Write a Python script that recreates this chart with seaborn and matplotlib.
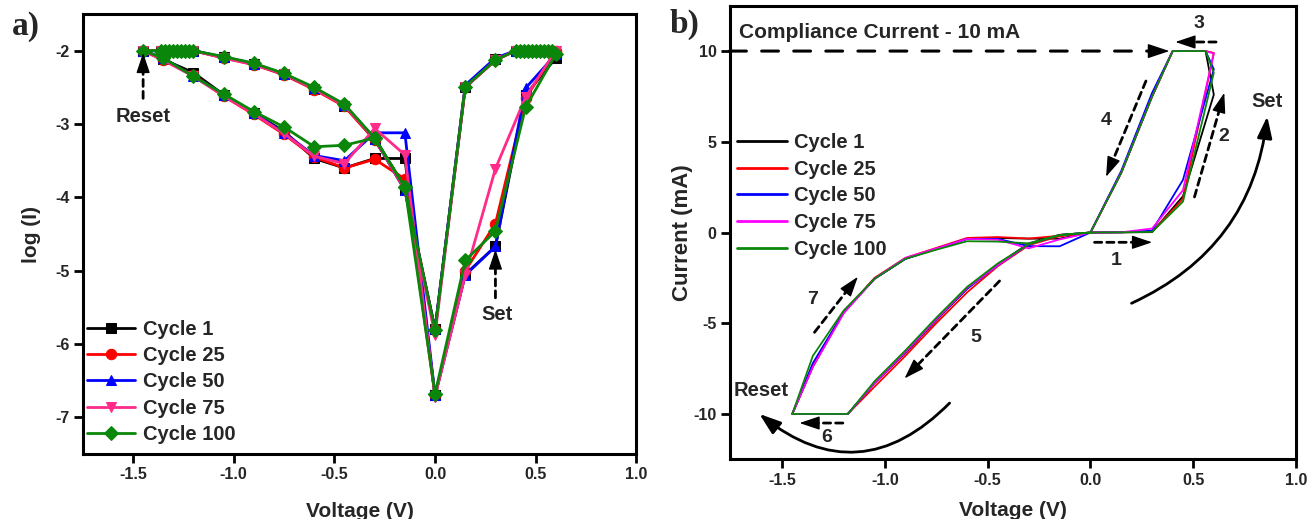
import matplotlib
matplotlib.use("Agg")
import numpy as np
import matplotlib.pyplot as plt
import seaborn as sns

# ---------------- panel a: log(I) against voltage ----------------
cycles = ["Cycle 1", "Cycle 25", "Cycle 50", "Cycle 75", "Cycle 100"]

volt_a = [0, 0.15, 0.3, 0.45, 0.6,
          0.58, 0.56, 0.54, 0.52, 0.5, 0.48, 0.46, 0.44, 0.42, 0.4,
          0.3, 0.15, 0,
          -0.15, -0.3, -0.45, -0.6, -0.75, -0.9, -1.05, -1.2,
          -1.22, -1.24, -1.26, -1.28, -1.3, -1.32, -1.34, -1.36,
          -1.45,
          -1.35, -1.2, -1.05, -0.9, -0.75, -0.6, -0.45, -0.3, -0.15, 0]

log_c1 = [-6.7, -5.05, -4.67, -2.6, -2.1,
          -2.0, -2.0, -2.0, -2.0, -2.0, -2.0, -2.0, -2.0, -2.0, -2.0,
          -2.12, -2.5, -5.8,
          -3.9, -3.2, -2.75, -2.52, -2.32, -2.18, -2.09, -2.0,
          -2.0, -2.0, -2.0, -2.0, -2.0, -2.0, -2.0, -2.0,
          -2.0,
          -2.12, -2.3, -2.6, -2.85, -3.1, -3.47, -3.6, -3.47, -3.47, -6.7]
log_c25 = [-6.7, -5.0, -4.36, -2.65, -2.0,
           -2.0, -2.0, -2.0, -2.0, -2.0, -2.0, -2.0, -2.0, -2.0, -2.0,
           -2.13, -2.5, -5.8,
           -3.85, -3.22, -2.76, -2.53, -2.33, -2.19, -2.1, -2.0,
           -2.0, -2.0, -2.0, -2.0, -2.0, -2.0, -2.0, -2.0,
           -2.0,
           -2.13, -2.33, -2.62, -2.87, -3.14, -3.45, -3.6, -3.48, -3.75, -6.7]
log_c50 = [-6.7, -5.06, -4.67, -2.51, -2.05,
           -2.0, -2.0, -2.0, -2.0, -2.0, -2.0, -2.0, -2.0, -2.0, -2.0,
           -2.1, -2.47, -5.8,
           -3.9, -3.2, -2.74, -2.51, -2.32, -2.18, -2.09, -2.0,
           -2.0, -2.0, -2.0, -2.0, -2.0, -2.0, -2.0, -2.0,
           -2.0,
           -2.1, -2.35, -2.6, -2.85, -3.12, -3.43, -3.5, -3.12, -3.12, -6.7]
log_c75 = [-6.72, -5.06, -3.61, -2.63, -2.0,
           -2.0, -2.0, -2.0, -2.0, -2.0, -2.0, -2.0, -2.0, -2.0, -2.0,
           -2.13, -2.5, -5.88,
           -3.9, -3.2, -2.75, -2.52, -2.32, -2.19, -2.1, -2.0,
           -2.0, -2.0, -2.0, -2.0, -2.0, -2.0, -2.0, -2.0,
           -2.0,
           -2.13, -2.35, -2.62, -2.86, -3.13, -3.44, -3.54, -3.06, -3.42, -6.72]
log_c100 = [-6.68, -4.86, -4.46, -2.77, -2.05,
            -2.0, -2.0, -2.0, -2.0, -2.0, -2.0, -2.0, -2.0, -2.0, -2.0,
            -2.13, -2.49, -5.81,
            -3.86, -3.19, -2.73, -2.5, -2.31, -2.17, -2.08, -2.0,
            -2.0, -2.0, -2.0, -2.0, -2.0, -2.0, -2.0, -2.0,
            -2.0,
            -2.1, -2.35, -2.59, -2.83, -3.04, -3.31, -3.29, -3.19, -3.86, -6.68]

# ---------------- panel b: current (mA) against voltage ----------------
volt_b = [0, 0.15, 0.3, 0.45, 0.6, 0.56, 0.4, 0.3, 0.15, 0,
          -0.15, -0.3, -0.45, -0.6, -0.75, -0.9, -1.05, -1.18, -1.45,
          -1.35, -1.2, -1.05, -0.9, -0.75, -0.6, -0.45, -0.3, -0.15, 0]

cur_c1 = [0, 0.01, 0.02, 2.0, 7.6, 10, 10, 7.5, 3.3, 0,
          -0.13, -0.6, -1.75, -3.1, -4.85, -6.65, -8.3, -10, -10,
          -7.4, -4.4, -2.55, -1.45, -0.9, -0.35, -0.3, -0.34, -0.34, 0]
cur_c25 = [0, 0.01, 0.05, 1.85, 9.9, 10, 10, 7.5, 3.3, 0,
           -0.2, -0.7, -1.85, -3.3, -5.0, -6.8, -8.5, -10, -10,
           -7.3, -4.4, -2.5, -1.4, -0.85, -0.3, -0.25, -0.33, -0.18, 0]
cur_c50 = [0, 0.01, 0.1, 2.9, 9.0, 10, 10, 7.7, 3.4, 0,
           -0.14, -0.65, -1.8, -3.1, -4.8, -6.6, -8.3, -10, -10,
           -7.2, -4.4, -2.55, -1.45, -0.9, -0.35, -0.35, -0.75, -0.76, 0]
cur_c75 = [0, 0.01, 0.22, 2.33, 9.87, 10, 10, 7.5, 3.3, 0,
           -0.13, -0.65, -1.8, -3.05, -4.8, -6.6, -8.3, -10, -10,
           -7.4, -4.45, -2.55, -1.4, -0.88, -0.35, -0.4, -0.87, -0.38, 0]
cur_c100 = [0, 0.01, 0.03, 1.7, 8.8, 10, 10, 7.5, 3.3, 0,
            -0.14, -0.65, -1.7, -3.0, -4.7, -6.5, -8.2, -10, -10,
            -6.8, -4.3, -2.55, -1.45, -0.95, -0.48, -0.5, -0.6, -0.14, 0]

log_series = [log_c1, log_c25, log_c50, log_c75, log_c100]
cur_series = [cur_c1, cur_c25, cur_c50, cur_c75, cur_c100]

colors_a = ["#000000", "#FF0000", "#0000FF", "#FF2A8A", "#0A870A"]
colors_b = ["#000000", "#FF0000", "#0000FF", "#FF00FF", "#0A870A"]
markers_a = ["s", "o", "^", "v", "D"]

sns.set_style("ticks")
plt.rcParams["font.family"] = ["Liberation Sans", "DejaVu Sans"]
plt.rcParams["font.weight"] = "bold"
plt.rcParams["axes.labelweight"] = "bold"

fig = plt.figure(figsize=(13.11, 5.19), dpi=100)
ax_a = fig.add_axes([0.0631, 0.1252, 0.4223, 0.8478])
ax_b = fig.add_axes([0.5565, 0.1150, 0.4321, 0.8740])


def style_axes(ax):
    for sp in ax.spines.values():
        sp.set_linewidth(2.2)
        sp.set_color("black")
    ax.tick_params(axis="both", which="both", direction="out", length=6.5, width=2,
                   labelsize=11.5, pad=3, top=False, right=False, color="black")
    for lab in ax.get_xticklabels() + ax.get_yticklabels():
        lab.set_fontweight("bold")


def dashed_arrow(ax, start, end, lw=2.0, dash=(2.6, 1.8), hl=1.25, hw=0.42):
    # dashed shaft plus a solid head placed at the end
    p0 = ax.transData.transform(start)
    p1 = ax.transData.transform(end)
    d = p1 - p0
    head_px = hl * 10 * fig.dpi / 72.0
    base = ax.transData.inverted().transform(p1 - d / np.hypot(*d) * head_px)
    ax.annotate("", xy=base, xytext=start,
                arrowprops=dict(arrowstyle="-", linestyle=(0, dash), lw=lw,
                                color="black", shrinkA=0, shrinkB=0))
    ax.annotate("", xy=end, xytext=base,
                arrowprops=dict(arrowstyle=f"-|>,head_length={hl},head_width={hw}",
                                lw=1.0, color="black", shrinkA=0, shrinkB=0,
                                mutation_scale=10))


# ---- panel a ----
ax_a.set_xlim(-1.75, 1.0)
ax_a.set_ylim(-7.5, -1.5)
for name, ys, col, mk in zip(cycles, log_series, colors_a, markers_a):
    sns.lineplot(x=volt_a, y=ys, ax=ax_a, sort=False, estimator=None, color=col,
                 marker=mk, markersize=7.5 if mk != "D" else 7, markeredgecolor=col,
                 linewidth=2.0, label=name)

ax_a.set_xlim(-1.75, 1.0)
ax_a.set_ylim(-7.5, -1.5)
ax_a.set_xticks([-1.5, -1.0, -0.5, 0.0, 0.5, 1.0])
ax_a.set_xticklabels(["-1.5", "-1.0", "-0.5", "0.0", "0.5", "1.0"])
ax_a.set_yticks([-7, -6, -5, -4, -3, -2])
ax_a.set_yticklabels(["-7", "-6", "-5", "-4", "-3", "-2"])
ax_a.set_xlabel("Voltage (V)", fontsize=15, fontweight="bold", labelpad=14)
ax_a.set_ylabel("log (I)", fontsize=15, fontweight="bold", labelpad=10)
style_axes(ax_a)

leg_a = ax_a.legend(loc="lower left", bbox_to_anchor=(0.008, 0.023), frameon=False,
                    fontsize=14.5, handlelength=2.4, handletextpad=0.35,
                    labelspacing=0.36, borderaxespad=0, borderpad=0)
for t in leg_a.get_texts():
    t.set_fontweight("bold")

dashed_arrow(ax_a, (-1.45, -2.65), (-1.45, -2.03), lw=2.0, dash=(2.5, 1.8))
ax_a.text(-1.45, -2.9, "Reset", ha="center", va="center", fontsize=14.5, fontweight="bold")
dashed_arrow(ax_a, (0.3, -5.37), (0.3, -4.71), lw=2.0, dash=(2.5, 1.8))
ax_a.text(0.31, -5.6, "Set", ha="center", va="center", fontsize=14.5, fontweight="bold")

# ---- panel b ----
ax_b.set_xlim(-1.755, 1.0)
ax_b.set_ylim(-12.5, 12.5)
for name, ys, col in zip(cycles, cur_series, colors_b):
    sns.lineplot(x=volt_b, y=ys, ax=ax_b, sort=False, estimator=None, color=col,
                 linewidth=1.3, label=name)

ax_b.set_xlim(-1.755, 1.0)
ax_b.set_ylim(-12.5, 12.5)
ax_b.set_xticks([-1.5, -1.0, -0.5, 0.0, 0.5, 1.0])
ax_b.set_xticklabels(["-1.5", "-1.0", "-0.5", "0.0", "0.5", "1.0"])
ax_b.set_yticks([-10, -5, 0, 5, 10])
ax_b.set_yticklabels(["-10", "-5", "0", "5", "10"])
ax_b.set_xlabel("Voltage (V)", fontsize=15, fontweight="bold", labelpad=10)
ax_b.set_ylabel("Current (mA)", fontsize=16, fontweight="bold", labelpad=0)
style_axes(ax_b)

leg_b = ax_b.legend(loc="upper left", bbox_to_anchor=(0.013, 0.719), frameon=False,
                    fontsize=14.5, handlelength=2.5, handletextpad=0.35,
                    labelspacing=0.38, borderaxespad=0, borderpad=0)
for t in leg_b.get_texts():
    t.set_fontweight("bold")
for ln in leg_b.get_lines():
    ln.set_linewidth(2.0)

ax_b.text(-1.71, 10.74, "Compliance Current - 10 mA", ha="left", va="baseline",
          fontsize=15, fontweight="bold")
dashed_arrow(ax_b, (-1.755, 10.0), (0.384, 10.0), lw=2.2, dash=(5.5, 5.0), hl=1.35, hw=0.45)
dashed_arrow(ax_b, (0.611, 10.5), (0.413, 10.5))
dashed_arrow(ax_b, (0.27, 8.35), (0.076, 3.07))
dashed_arrow(ax_b, (0.506, 1.96), (0.651, 7.7))
dashed_arrow(ax_b, (0.02, -0.54), (0.30, -0.54))
dashed_arrow(ax_b, (-1.342, -5.5), (-1.131, -2.44))
dashed_arrow(ax_b, (-0.442, -2.67), (-0.904, -8.04))
dashed_arrow(ax_b, (-1.204, -10.5), (-1.415, -10.5))

for lbl, (xx, yy) in zip(["1", "2", "3", "4", "5", "6", "7"],
                         [(0.125, -1.55), (0.65, 5.3), (0.53, 11.5), (0.078, 6.2),
                          (-0.556, -5.8), (-1.285, -11.3), (-1.35, -3.7)]):
    ax_b.text(xx, yy, lbl, ha="center", va="center", fontsize=14, fontweight="bold")

ax_b.text(0.86, 7.2, "Set", ha="center", va="center", fontsize=14.5, fontweight="bold")
ax_b.text(-1.6, -8.7, "Reset", ha="center", va="center", fontsize=14.5, fontweight="bold")

ax_b.annotate("", xy=(0.86, 6.4), xytext=(0.2, -3.9),
              arrowprops=dict(arrowstyle="-|>,head_length=1.3,head_width=0.45", lw=2.0,
                              color="black", shrinkA=0, shrinkB=0, mutation_scale=10,
                              connectionstyle="arc3,rad=0.28"))
ax_b.annotate("", xy=(-1.61, -10.0), xytext=(-0.685, -9.4),
              arrowprops=dict(arrowstyle="-|>,head_length=1.3,head_width=0.45", lw=2.0,
                              color="black", shrinkA=0, shrinkB=0, mutation_scale=10,
                              connectionstyle="arc3,rad=-0.45"))

fig.text(0.009, 0.933, "a)", fontsize=24, fontweight="bold", family=["Liberation Serif", "DejaVu Serif"])
fig.text(0.511, 0.936, "b)", fontsize=24, fontweight="bold", family=["Liberation Serif", "DejaVu Serif"])

fig.savefig("out.png", dpi=100)
